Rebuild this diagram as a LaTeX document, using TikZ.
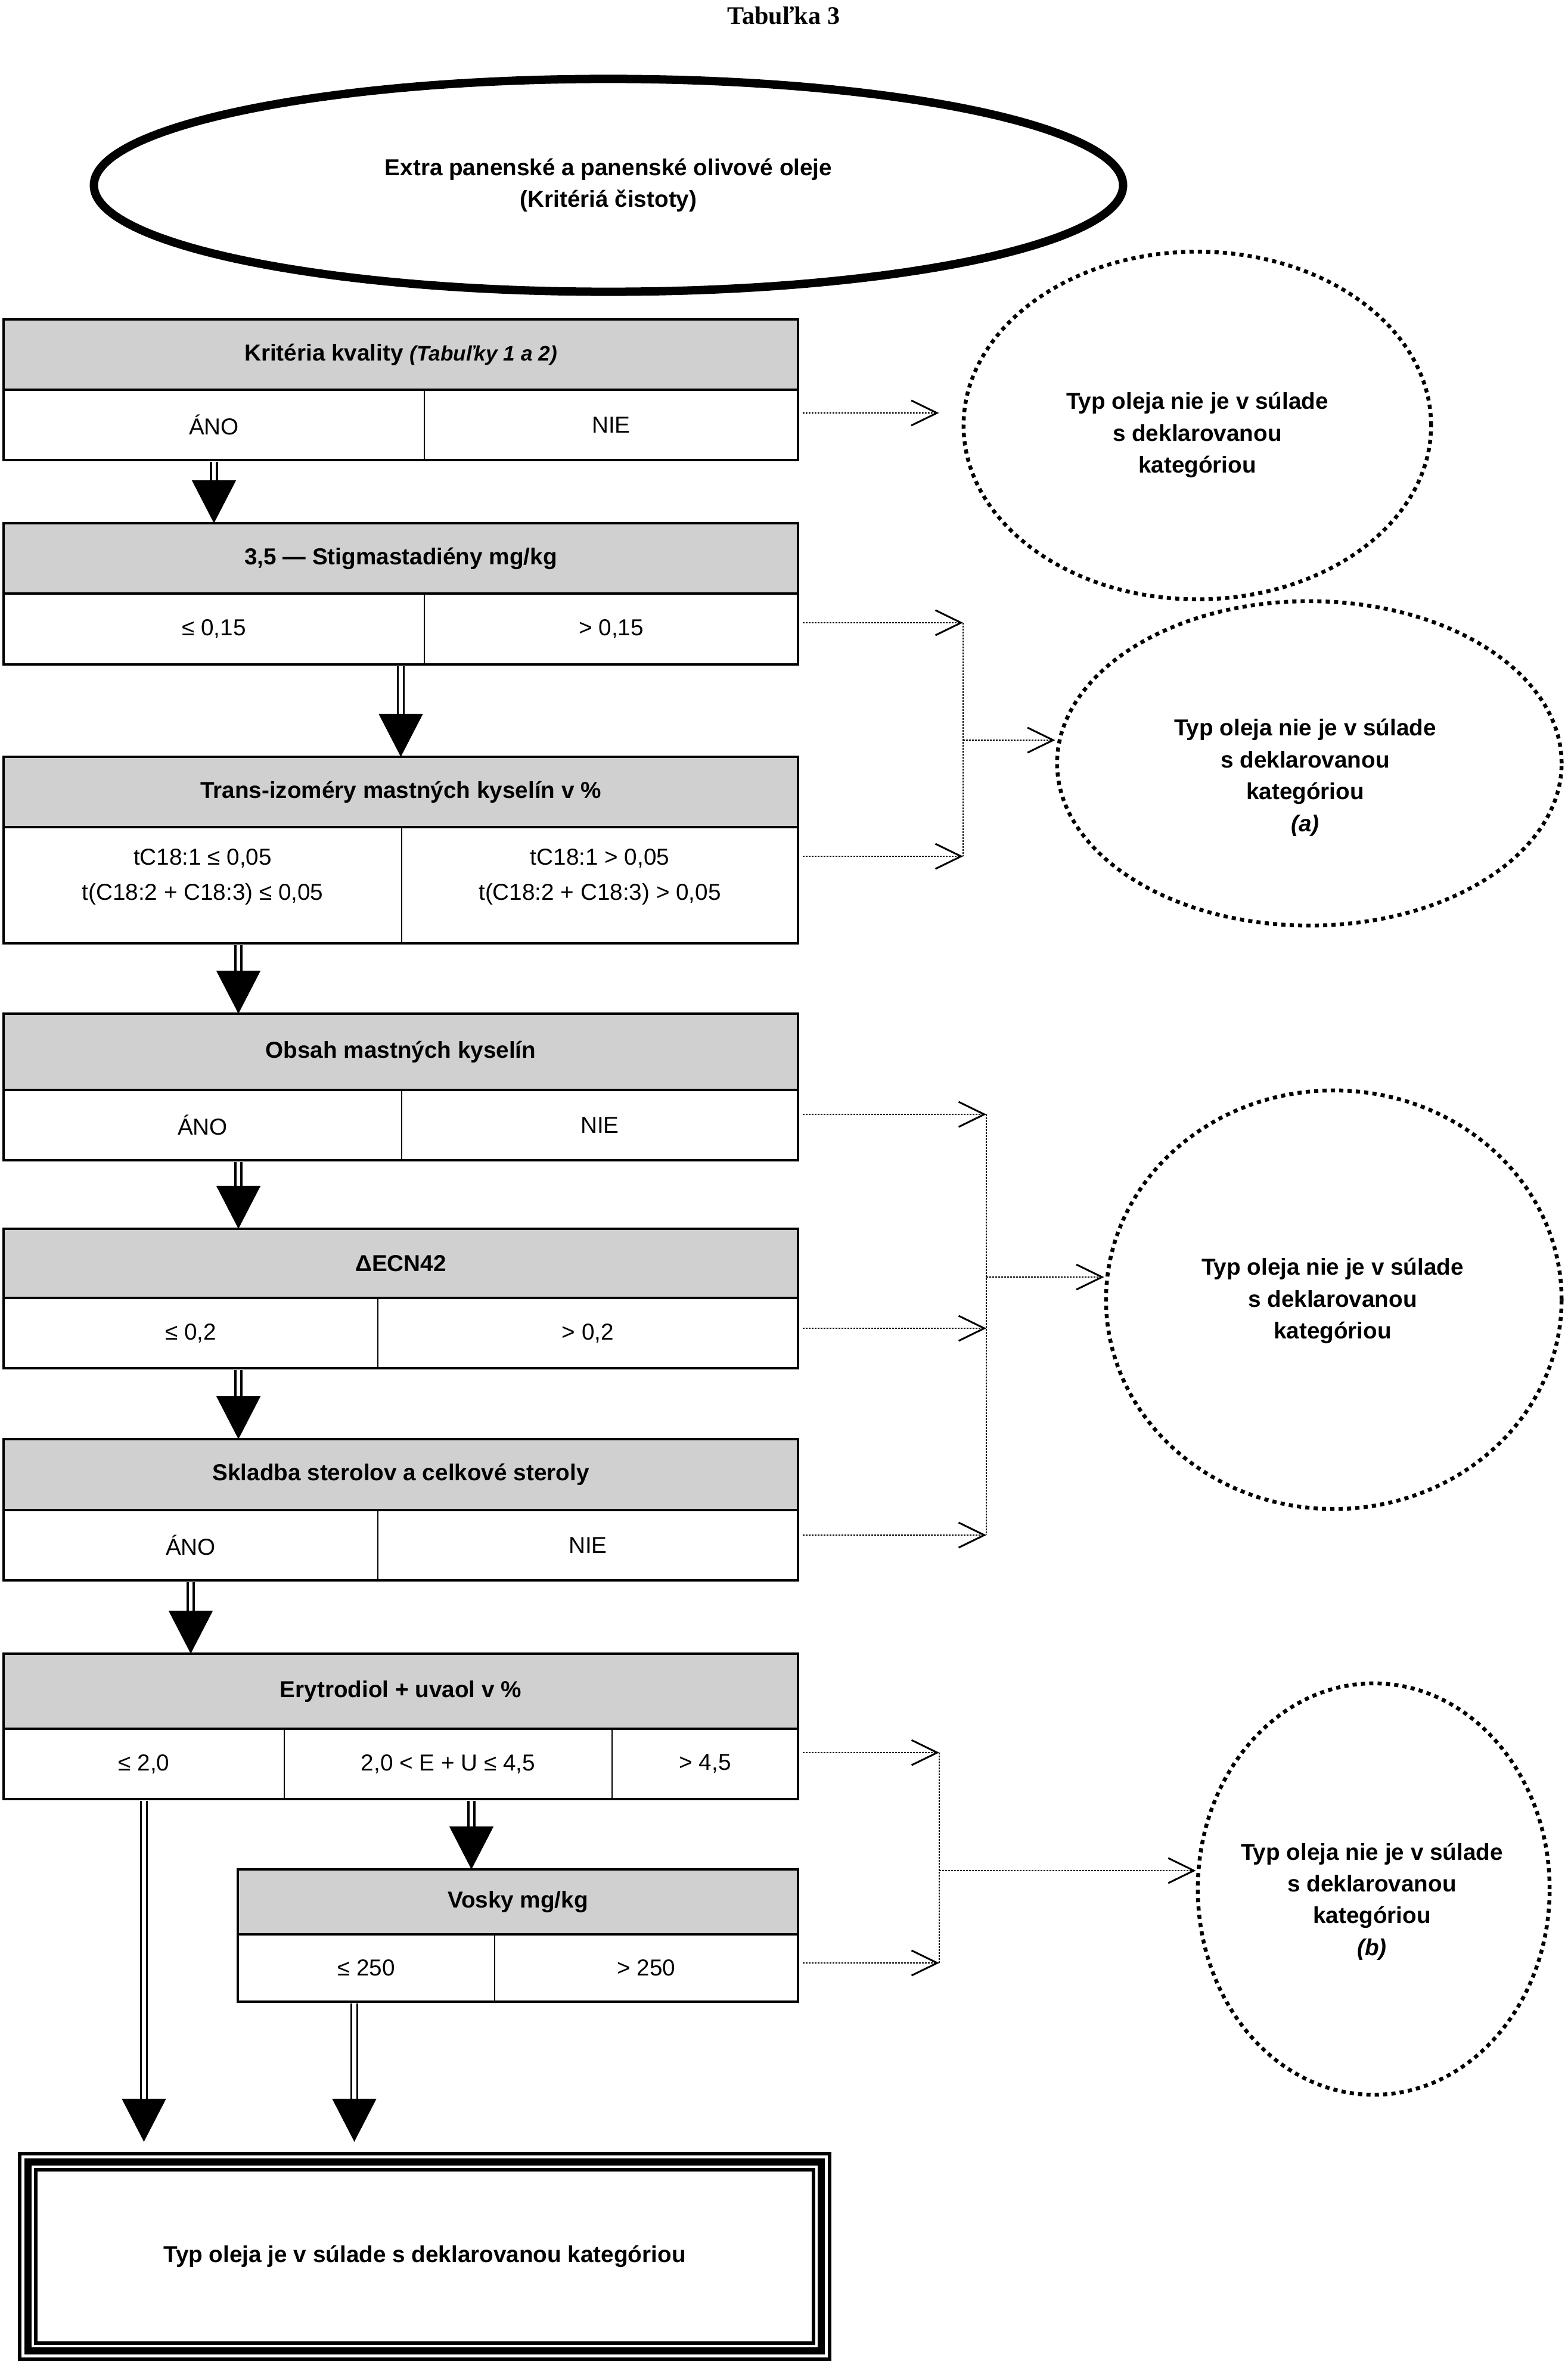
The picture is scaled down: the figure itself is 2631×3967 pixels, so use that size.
\documentclass[tikz,border=0pt]{standalone}
\usepackage{fontspec}
\setmainfont{Liberation Sans}
\newfontfamily\titleserif{Liberation Serif}
\usetikzlibrary{arrows.meta,shapes.geometric,fit,calc}
\definecolor{hgray}{RGB}{208,208,208}
\newcommand\myfs{\fontsize{11pt}{15.2pt}\selectfont}
\newcommand\myfsi{\fontsize{10pt}{13pt}\selectfont}
\newcommand\flowarrow[2]{%
  \draw[shaft] (#1) -- ([yshift=0.66cm]#2);
  \draw[head] ([yshift=0.72cm]#2) -- (#2);}
% name, box style, text style, corners, text
\newcommand\cbox[5]{%
  \node[#2, fit={#4}] (#1) {};
  \node[#3] (#1t) at (#1.center) {#5};}
\begin{document}
\begin{tikzpicture}[x=0.01cm,y=-0.01cm,
  hdr/.style={draw, line width=0.035cm, fill=hgray, inner sep=0pt, outer sep=0pt},
  cell/.style={draw, line width=0.025cm, inner sep=0pt, outer sep=0pt},
  htxt/.style={inner sep=0pt, font=\myfs\bfseries, align=center},
  ctxt/.style={inner sep=0pt, font=\myfs, align=center},
  boxline/.style={line width=0.045cm},
  shaft/.style={line width=0.035cm, double, double distance=0.065cm, shorten <=0.025cm},
  head/.style={line width=0.01cm, -{Triangle[length=0.72cm,width=0.74cm]}},
  dotline/.style={line width=0.025cm, dash pattern=on 0.025cm off 0.025cm},
  barb/.style={-{Straight Barb[length=0.43cm,width=0.42cm,line width=0.03cm]}},
  dotell/.style={ellipse, draw, line width=0.065cm, dash pattern=on 0.07cm off 0.07cm, inner sep=0pt},
  elltxt/.style={inner sep=0pt, font=\myfs\bfseries, align=center},
]
\useasboundingbox (0,0) rectangle (2631,3967);

% title
\node[inner sep=0pt, font=\fontsize{12pt}{14pt}\titleserif\bfseries\selectfont] (title) at (1315,26) {Tabuľka 3};

% start ellipse
\node[ellipse, draw, line width=0.14cm, minimum width=17.26cm, minimum height=3.57cm, inner sep=0pt,
      font=\myfs\bfseries, align=center] (start) at (1021,311)
      {Extra panenské a panenské olivové oleje\\(Kritériá čistoty)};

% Box 1
\cbox{h1}{hdr}{htxt}{(6,536) (1339,654)}{Kritéria kvality {\myfsi\itshape (Tabuľky 1 a 2)}}
\cbox{b1l}{cell}{ctxt}{(6,654) (712,772)}{ÁNO}
\cbox{b1r}{cell}{ctxt}{(712,654) (1339,772)}{NIE}
\draw[boxline] (h1.north west) rectangle (b1r.south east);

% Box 2
\cbox{h2}{hdr}{htxt}{(6,878) (1339,996)}{3,5 — Stigmastadiény mg/kg}
\cbox{b2l}{cell}{ctxt}{(6,996) (712,1115)}{≤ 0,15}
\cbox{b2r}{cell}{ctxt}{(712,996) (1339,1115)}{> 0,15}
\draw[boxline] (h2.north west) rectangle (b2r.south east);

% Box 3
\cbox{h3}{hdr}{htxt}{(6,1270) (1339,1388)}{Trans-izoméry mastných kyselín v \%}
\node[cell, fit={(6,1388) (674,1583)}] (b3l) {};
\node[cell, fit={(674,1388) (1339,1583)}] (b3r) {};
\draw[boxline] (h3.north west) rectangle (b3r.south east);
\node[ctxt, font=\fontsize{11pt}{16.5pt}\selectfont] (b3lt) at ([yshift=0.14cm]b3l.center) {tC18:1 ≤ 0,05\\t(C18:2 + C18:3) ≤ 0,05};
\node[ctxt, font=\fontsize{11pt}{16.5pt}\selectfont] (b3rt) at ([yshift=0.14cm]b3r.center) {tC18:1 > 0,05\\t(C18:2 + C18:3) > 0,05};

% Box 4
\cbox{h4}{hdr}{htxt}{(6,1701) (1339,1829)}{Obsah mastných kyselín}
\cbox{b4l}{cell}{ctxt}{(6,1829) (674,1947)}{ÁNO}
\cbox{b4r}{cell}{ctxt}{(674,1829) (1339,1947)}{NIE}
\draw[boxline] (h4.north west) rectangle (b4r.south east);

% Box 5
\cbox{h5}{hdr}{htxt}{(6,2062) (1339,2178)}{ΔECN42}
\cbox{b5l}{cell}{ctxt}{(6,2178) (634,2296)}{≤ 0,2}
\cbox{b5r}{cell}{ctxt}{(634,2178) (1339,2296)}{> 0,2}
\draw[boxline] (h5.north west) rectangle (b5r.south east);

% Box 6
\cbox{h6}{hdr}{htxt}{(6,2415) (1339,2534)}{Skladba sterolov a celkové steroly}
\cbox{b6l}{cell}{ctxt}{(6,2534) (634,2652)}{ÁNO}
\cbox{b6r}{cell}{ctxt}{(634,2534) (1339,2652)}{NIE}
\draw[boxline] (h6.north west) rectangle (b6r.south east);

% Box 7
\cbox{h7}{hdr}{htxt}{(6,2775) (1339,2901)}{Erytrodiol + uvaol v \%}
\cbox{b7l}{cell}{ctxt}{(6,2901) (477,3019)}{≤ 2,0}
\cbox{b7m}{cell}{ctxt}{(477,2901) (1027,3019)}{2,0 < E + U ≤ 4,5}
\cbox{b7r}{cell}{ctxt}{(1027,2901) (1339,3019)}{> 4,5}
\draw[boxline] (h7.north west) rectangle (b7r.south east);

% Box 8
\cbox{h8}{hdr}{htxt}{(399,3137) (1339,3246)}{Vosky mg/kg}
\cbox{b8l}{cell}{ctxt}{(399,3246) (830,3359)}{≤ 250}
\cbox{b8r}{cell}{ctxt}{(830,3246) (1339,3359)}{> 250}
\draw[boxline] (h8.north west) rectangle (b8r.south east);

% Final box
\node[draw, line width=0.06cm, outer sep=0pt, inner sep=0pt, fit={(33,3614) (1392,3959)}] (fin) {};
\draw[line width=0.12cm] ([shift={(14,14)}]fin.north west) rectangle ([shift={(-14,-14)}]fin.south east);
\draw[line width=0.055cm] ([shift={(27,27)}]fin.north west) rectangle ([shift={(-27,-27)}]fin.south east);
\node[htxt] (fint) at (fin.center) {Typ oleja je v súlade s deklarovanou kategóriou};

% Dotted ellipses
\node[dotell, minimum width=7.84cm, minimum height=5.83cm] (e1) at (2009,714) {};
\node[elltxt] (e1t) at (2009,730) {Typ oleja nie je v súlade\\s deklarovanou\\kategóriou};
\node[dotell, minimum width=8.46cm, minimum height=5.44cm] (e2) at (2197,1281) {};
\node[elltxt] (e2t) at (2190,1305) {Typ oleja nie je v súlade\\s deklarovanou\\kategóriou\\{\itshape (a)}};
\node[dotell, minimum width=7.64cm, minimum height=7.02cm] (e3) at (2238,2181) {};
\node[elltxt] (e3t) at (2236,2183) {Typ oleja nie je v súlade\\s deklarovanou\\kategóriou};
\node[dotell, minimum width=5.90cm, minimum height=6.90cm] (e4) at (2305,3170) {};
\node[elltxt] (e4t) at (2302,3191) {Typ oleja nie je v súlade\\s deklarovanou\\kategóriou\\{\itshape (b)}};

% Main flow arrows
\coordinate (s1) at (b1l.south);
\coordinate (t1) at (b1l.south |- h2.north);
\coordinate (s2) at (h2.center |- b2l.south);
\coordinate (t2) at (h3.north);
\coordinate (s3) at ([xshift=0.6cm]b3l.south);
\coordinate (t3) at (s3 |- h4.north);
\coordinate (s4) at ([xshift=0.6cm]b4l.south);
\coordinate (t4) at (s4 |- h5.north);
\coordinate (s5) at ([xshift=0.8cm]b5l.south);
\coordinate (t5) at (s5 |- h6.north);
\coordinate (s6) at (b6l.south);
\coordinate (t6) at (s6 |- h7.north);
\coordinate (s7) at ([xshift=0.39cm]b7m.south);
\coordinate (t7) at (s7 |- h8.north);
\coordinate (s8) at (b7l.south);
\coordinate (t8) at ([yshift=0.2cm]s8 |- fin.north);
\coordinate (s9) at ([xshift=-0.2cm]b8l.south);
\coordinate (t9) at ([yshift=0.2cm]s9 |- fin.north);
\flowarrow{s1}{t1}
\flowarrow{s2}{t2}
\flowarrow{s3}{t3}
\flowarrow{s4}{t4}
\flowarrow{s5}{t5}
\flowarrow{s6}{t6}
\flowarrow{s7}{t7}
\flowarrow{s8}{t8}
\flowarrow{s9}{t9}

% Dotted connectors
\draw[dotline, barb, shorten >=0.38cm] ([shift={(8,-20)}]b1r.east) -- ([yshift=0.2cm]e1.west |- b1r.east);

\coordinate (j2a) at (1616,1045);
\coordinate (j2b) at (1616,1437);
\coordinate (j2m) at (1616,1242);
\draw[dotline, barb] ([xshift=0.08cm]b2r.east |- j2a) -- (j2a);
\draw[dotline, barb] ([xshift=0.08cm]b3r.east |- j2b) -- (j2b);
\draw[dotline] (j2a) -- (j2b);
\draw[dotline, barb] (j2m) -- (e2.west |- j2m);

\coordinate (j3a) at (1655,1870);
\coordinate (j3b) at (1655,2229);
\coordinate (j3c) at (1655,2576);
\coordinate (j3m) at (1655,2143);
\draw[dotline, barb] ([xshift=0.08cm]b4r.east |- j3a) -- (j3a);
\draw[dotline, barb] ([xshift=0.08cm]b5r.east |- j3b) -- (j3b);
\draw[dotline, barb] ([xshift=0.08cm]b6r.east |- j3c) -- (j3c);
\draw[dotline] (j3a) -- (j3c);
\draw[dotline, barb] (j3m) -- (e3.west |- j3m);

\coordinate (j4a) at (1576,2941);
\coordinate (j4b) at (1576,3294);
\coordinate (j4m) at (1576,3139);
\draw[dotline, barb] ([xshift=0.08cm]b7r.east |- j4a) -- (j4a);
\draw[dotline, barb] ([xshift=0.08cm]b8r.east |- j4b) -- (j4b);
\draw[dotline] (j4a) -- (j4b);
\draw[dotline, barb] (j4m) -- (e4.west |- j4m);
\end{tikzpicture}
\end{document}
